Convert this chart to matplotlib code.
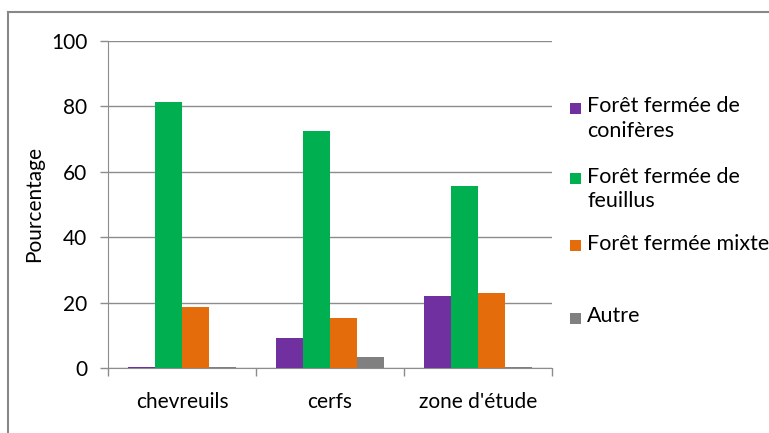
import matplotlib.pyplot as plt
import numpy as np
from matplotlib.lines import Line2D
from matplotlib.patches import Rectangle

plt.rcParams['font.family'] = ['Lato', 'DejaVu Sans']

categories = ['chevreuils', 'cerfs', "zone d'étude"]
series_names = ['Forêt fermée de\nconifères', 'Forêt fermée de\nfeuillus',
                'Forêt fermée mixte', 'Autre']
coniferes = [0.4, 9.2, 22.0]
feuillus = [81.3, 72.5, 55.7]
mixte = [18.6, 15.3, 22.9]
autre = [0.4, 3.4, 0.3]
colours = ['#7030A0', '#00B050', '#E46C0A', '#808080']

values = [coniferes, feuillus, mixte, autre]

W, H = 769, 433
fig = plt.figure(figsize=(W / 100, H / 100), dpi=100)
ax = fig.add_axes([108 / W, 1 - 368 / H, 444 / W, 327 / H])

x = np.arange(len(categories))
width = 27 / 148
for i, (vals, col) in enumerate(zip(values, colours)):
    ax.bar(x + (i - 1.5) * width, vals, width, color=col, zorder=3)

ax.set_xlim(-0.5, 2.5)
ax.set_ylim(0, 100)
ax.set_yticks([0, 20, 40, 60, 80, 100])
ax.grid(axis='y', color='#8c8c8c', linewidth=1, zorder=0)
ax.set_xticks(x)
ax.set_xticklabels(categories, fontsize=15)
ax.set_xticks([-0.5, 0.5, 1.5, 2.5], minor=True)
ax.tick_params(axis='x', which='major', length=0, pad=17)
ax.tick_params(axis='x', which='minor', length=6, color='#8c8c8c', width=1)
ax.tick_params(axis='y', length=6, color='#8c8c8c', width=1, labelsize=15, pad=9)
for s in ('top', 'right'):
    ax.spines[s].set_visible(False)
for s in ('left', 'bottom'):
    ax.spines[s].set_color('#8c8c8c')
ax.set_ylabel('Pourcentage', fontsize=15, labelpad=5)

# legend drawn by hand: Excel spaces the entries unevenly
entry_y = [108, 178, 245, 318]
for name, col, yc in zip(series_names, colours, entry_y):
    fig.add_artist(Rectangle((570 / W, 1 - (yc + 5.5) / H), 11 / W, 11 / H,
                             facecolor=col, edgecolor='none',
                             transform=fig.transFigure))
    fig.text(587 / W, 1 - (yc - 11.5) / H, name, fontsize=15.5, va='top',
             ha='left', linespacing=1.3)

# outer chart frame (left and top edges visible)
fig.add_artist(Line2D([8 / W, 8 / W], [0, 1 - 12 / H],
                      color='#888888', linewidth=1.5))
fig.add_artist(Line2D([8 / W, 1], [1 - 12 / H, 1 - 12 / H],
                      color='#888888', linewidth=1.5))

fig.savefig('out.png', dpi=100)
